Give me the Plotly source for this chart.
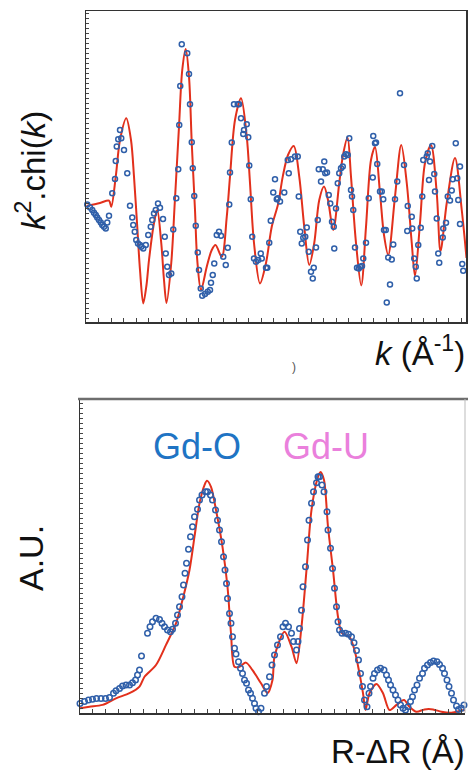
import plotly.graph_objects as go

# ---------------- top panel: k^2.chi(k) ----------------
k_fit = [0.02, 0.56, 0.92, 1.01, 1.19, 1.36, 1.61, 1.80, 1.92, 2.05, 2.16, 2.29, 2.42, 2.52, 2.72, 2.85,
         3.01, 3.12, 3.22, 3.41, 3.55, 3.72, 3.85, 3.99, 4.12, 4.23, 4.36, 4.45, 4.60, 4.83, 5.03, 5.18,
         5.43, 5.63, 5.76, 5.96, 6.20, 6.43, 6.56, 6.72, 6.96, 7.20, 7.43, 7.69, 7.87, 8.08, 8.31, 8.53,
         8.73, 8.93, 9.13, 9.33, 9.52, 9.68, 9.89, 10.13, 10.28, 10.46, 10.60, 10.80, 11.01, 11.20, 11.40,
         11.56, 11.76, 11.92, 12.09, 12.36, 12.61, 12.83, 13.03, 13.16, 13.36, 13.56, 13.80, 14.03, 14.18,
         14.43, 14.76, 15.03, 15.22]
chi_fit = [-0.15, 0.0, 0.12, -0.19, 1.32, 3.15, 4.24, 3.15, 1.32, -1.19, -3.35, -5.02, -4.10, -2.85, -1.00, -0.35,
           -2.00, -3.85, -5.00, -3.00, 0.00, 3.82, 6.65, 7.70, 6.32, 3.00, -0.35, -2.85, -4.35, -3.19, -2.35, -2.10,
           -2.69, -0.69, 1.32, 4.15, 5.24, 3.32, 1.00, -2.00, -4.02, -3.00, -1.19, -0.02, 1.32, 2.40, 2.85, 1.32,
           -1.19, -3.10, -2.00, 0.15, 0.82, 0.15, -1.35, 1.00, 2.40, 3.28, 1.32, -2.00, -4.12, -1.19, 2.15,
           2.80, 0.50, -1.60, -2.60, 0.32, 2.90, 1.00, -2.00, -3.65, -1.00, 2.00, 2.90, 0.50, -2.40,
           0.00, 2.25, -0.35, -2.75]

k_exp = [0.05, 0.16, 0.25, 0.32, 0.39, 0.45, 0.52, 0.59, 0.65, 0.72, 0.79, 0.85, 0.92, 1.05, 1.16, 1.19, 1.23,
         1.29, 1.36, 1.41, 1.52, 1.65, 1.76, 1.85, 1.89, 1.95, 2.01, 2.08, 2.16, 2.21, 2.29, 2.39, 2.49, 2.59,
         2.65, 2.72, 2.79, 2.88, 2.96, 3.08, 3.15, 3.19, 3.25, 3.32, 3.41, 3.49, 3.61, 3.69, 3.73, 3.77, 3.83,
         4.05, 4.12, 4.16, 4.23, 4.27, 4.33, 4.39, 4.47, 4.52, 4.59, 4.65, 4.76, 4.87, 4.96, 5.00, 5.07, 5.13,
         5.23, 5.32, 5.40, 5.49, 5.59, 5.67, 5.73, 5.76, 5.83, 5.92, 6.07, 6.12, 6.20, 6.29, 6.32, 6.43, 6.49,
         6.53, 6.59, 6.65, 6.72, 6.80, 6.89, 6.99, 7.03, 7.20, 7.25, 7.33, 7.39, 7.49, 7.56, 7.63, 7.67, 7.76,
         7.93, 8.07, 8.11, 8.20, 8.36, 8.47, 8.51, 8.57, 8.63, 8.69, 8.77, 8.83, 8.91, 9.00, 9.07, 9.11, 9.20,
         9.27, 9.31, 9.40, 9.47, 9.53, 9.57, 9.64, 9.71, 9.77, 9.84, 9.91, 9.93, 10.00, 10.07, 10.13, 10.20,
         10.27, 10.33, 10.40, 10.47, 10.53, 10.60, 10.64, 10.69, 10.76, 10.84, 10.91, 10.97, 11.04, 11.09,
         11.20, 11.31, 11.47, 11.49, 11.56, 11.60, 11.65, 11.76, 11.83, 11.89, 11.92, 11.99, 12.03, 12.09,
         12.16, 12.23, 12.29, 12.36, 12.45, 12.56, 12.72, 12.87, 12.85, 13.03, 13.05, 13.13, 13.19, 13.23,
         13.29, 13.39, 13.45, 13.49, 13.63, 13.67, 13.72, 13.76, 13.85, 13.93, 13.96, 14.03, 14.09, 14.13,
         14.27, 14.29, 14.40, 14.47, 14.56, 14.63, 14.67, 14.79, 14.85, 14.89, 14.96, 14.96, 15.05, 15.09]
chi_exp = [-0.07, -0.22, -0.35, -0.49, -0.60, -0.72, -0.85, -0.97, -1.10, -1.19, -1.27, -0.97, -0.64, 0.49, 1.20,
           2.10, 2.82, 3.19, 3.65, 3.24, 2.65, 1.49, -0.14, -0.72, -1.10, -1.44, -1.85, -2.02, -2.10, -2.19,
           -2.27, -2.10, -1.60, -1.19, -0.85, -0.52, -0.35, -0.02, -0.24, -0.80, -1.69, -2.52, -3.19, -3.60,
           -3.52, -1.32, 0.24, 1.69, 3.90, 5.85, 7.94, 7.49, 6.45, 4.94, 3.04, 1.74, 0.35, -1.14, -2.47, -3.35,
           -4.27, -4.64, -4.55, -4.44, -4.35, -3.99, -3.60, -3.02, -1.60, -1.44, -1.64, -2.69, -3.10, -2.24,
           -0.07, 1.52, 3.02, 4.94, 4.94, 4.94, 4.24, 3.45, 3.65, 3.94, 3.29, 1.87, 0.19, -1.69, -2.77, -2.94,
           -2.85, -2.52, -2.77, -3.24, -3.24, -1.99, -0.89, 0.52, 1.19, 0.19, 0.24, 0.07, 0.52, 2.15, 1.49,
           2.19, 2.32, 2.32, 0.32, -1.44, -2.02, -1.74, -1.69, -1.22, -2.44, -3.44, -3.77, -3.24, -2.22, -0.85,
           1.69, 1.07, 1.69, 2.07, 1.49, 1.52, 0.40, -0.02, -0.94, -1.19, -2.27, -0.27, 0.99, 1.49, 1.74, 1.82,
           2.32, 2.44, 2.40, 3.24, 0.65, 0.32, -0.35, -2.22, -3.24, -3.27, -3.19, -3.15, -2.77, -1.99, 0.24,
           1.27, 3.35, 2.99, 3.02, 1.95, 0.57, 0.57, 0.19, -1.35, -1.35, -4.97, -2.72, -4.07, -2.82, -2.07,
           0.19, 1.07, 5.49, 1.90, -0.15, -1.40, -0.69, -1.27, -2.77, -3.19, -3.77, -2.10, -1.24, 0.32, 2.15,
           2.32, 2.49, 1.15, 2.07, 2.85, 1.45, 0.57, -0.77, -2.52, -2.99, -1.72, -1.27, -0.99, 0.32, 0.12,
           0.62, 1.19, 2.99, 1.24, 0.15, 1.82, -1.05, -3.05, -3.39]

# ---------------- bottom panel: FT magnitude ----------------
r_fit = [0.00, 0.19, 0.45, 0.72, 0.99, 1.19, 1.29, 1.52, 1.72, 1.92, 2.05, 2.19, 2.29, 2.39, 2.49, 2.54, 2.62,
         2.72, 2.85, 2.95, 3.02, 3.09, 3.19, 3.32, 3.45, 3.62, 3.75, 3.85, 3.89, 4.09, 4.23, 4.33, 4.43, 4.53,
         4.63, 4.75, 4.81, 4.88, 4.96, 5.06, 5.16, 5.24, 5.39, 5.49, 5.59, 5.66, 5.71, 5.79, 5.93, 6.06, 6.19,
         6.33, 6.48, 6.59, 6.73, 6.89, 7.06, 7.23, 7.43, 7.63, 7.70]
ft_fit = [0.016, 0.021, 0.027, 0.049, 0.066, 0.088, 0.121, 0.160, 0.227, 0.299, 0.377, 0.477, 0.588, 0.699,
          0.760, 0.774, 0.754, 0.677, 0.554, 0.421, 0.266, 0.154, 0.154, 0.168, 0.143, 0.099, 0.066, 0.110,
          0.188, 0.271, 0.221, 0.166, 0.288, 0.477, 0.677, 0.782, 0.804, 0.777, 0.621, 0.477, 0.321, 0.266,
          0.254, 0.210, 0.132, 0.066, 0.010, 0.066, 0.097, 0.066, 0.010, 0.027, 0.043, 0.021, 0.004, 0.012,
          0.012, 0.004, 0.001, 0.008, 0.010]

r_exp = [0.00, 0.09, 0.17, 0.25, 0.33, 0.42, 0.51, 0.59, 0.67, 0.72, 0.79, 0.85, 0.92, 0.99, 1.05, 1.11, 1.15,
         1.19, 1.23, 1.35, 1.40, 1.45, 1.52, 1.59, 1.64, 1.69, 1.75, 1.81, 1.85, 1.91, 1.95, 1.99, 2.04, 2.07,
         2.10, 2.13, 2.17, 2.21, 2.25, 2.29, 2.35, 2.39, 2.44, 2.51, 2.55, 2.61, 2.65, 2.71, 2.75, 2.79, 2.83,
         2.87, 2.90, 2.93, 2.95, 2.99, 3.02, 3.05, 3.09, 3.12, 3.17, 3.21, 3.25, 3.29, 3.33, 3.37, 3.41, 3.45,
         3.49, 3.52, 3.57, 3.62, 3.69, 3.73, 3.79, 3.84, 3.89, 3.95, 4.01, 4.06, 4.11, 4.17, 4.23, 4.27, 4.33,
         4.36, 4.39, 4.43, 4.46, 4.51, 4.55, 4.58, 4.63, 4.67, 4.73, 4.76, 4.79, 4.84, 4.88, 4.94, 4.96, 5.01,
         5.05, 5.09, 5.13, 5.16, 5.19, 5.24, 5.31, 5.37, 5.43, 5.48, 5.53, 5.57, 5.61, 5.65, 5.69, 5.74, 5.78,
         5.81, 5.86, 5.89, 5.95, 6.01, 6.08, 6.13, 6.17, 6.21, 6.26, 6.31, 6.36, 6.41, 6.46, 6.51, 6.56, 6.61,
         6.65, 6.69, 6.74, 6.79, 6.85, 6.89, 6.95, 7.01, 7.07, 7.14, 7.19, 7.25, 7.29, 7.34, 7.38, 7.43, 7.47,
         7.53, 7.57, 7.63, 7.68]
ft_exp = [0.032, 0.038, 0.043, 0.046, 0.048, 0.048, 0.048, 0.052, 0.066, 0.074, 0.082, 0.090, 0.093, 0.093,
          0.101, 0.110, 0.127, 0.143, 0.190, 0.266, 0.288, 0.304, 0.316, 0.312, 0.299, 0.288, 0.277, 0.271,
          0.279, 0.299, 0.327, 0.354, 0.388, 0.427, 0.466, 0.499, 0.546, 0.588, 0.621, 0.654, 0.679, 0.710,
          0.727, 0.738, 0.738, 0.727, 0.710, 0.677, 0.643, 0.610, 0.571, 0.521, 0.477, 0.432, 0.382, 0.332,
          0.299, 0.254, 0.216, 0.197, 0.171, 0.149, 0.132, 0.110, 0.099, 0.077, 0.066, 0.049, 0.032, 0.016,
          0.004, 0.016, 0.066, 0.088, 0.121, 0.160, 0.193, 0.227, 0.254, 0.288, 0.299, 0.288, 0.266, 0.238,
          0.210, 0.238, 0.282, 0.343, 0.421, 0.488, 0.577, 0.643, 0.699, 0.738, 0.768, 0.788, 0.788, 0.760,
          0.738, 0.671, 0.610, 0.549, 0.482, 0.416, 0.354, 0.304, 0.277, 0.266, 0.266, 0.263, 0.254, 0.234,
          0.208, 0.177, 0.132, 0.088, 0.043, 0.021, 0.066, 0.088, 0.116, 0.132, 0.143, 0.149, 0.143, 0.127,
          0.110, 0.093, 0.077, 0.060, 0.043, 0.027, 0.016, 0.010, 0.021, 0.038, 0.054, 0.077, 0.093, 0.116,
          0.132, 0.149, 0.160, 0.168, 0.173, 0.171, 0.162, 0.149, 0.132, 0.110, 0.088, 0.066, 0.043, 0.023,
          0.012, 0.016, 0.027]

RED = "#E2301C"
BLUE = "#2F5FA9"
FONT = "Liberation Sans, Arial, sans-serif"

fig = go.Figure()
fig.add_trace(go.Scatter(x=k_fit, y=chi_fit, mode="lines", line=dict(color=RED, width=2, shape="spline", smoothing=0.9),
                         xaxis="x", yaxis="y", showlegend=False))
fig.add_trace(go.Scatter(x=k_exp, y=chi_exp, mode="markers",
                         marker=dict(symbol="circle-open", size=5, color=BLUE, line=dict(width=1.5, color=BLUE)),
                         xaxis="x", yaxis="y", showlegend=False, cliponaxis=False))
fig.add_trace(go.Scatter(x=r_fit, y=ft_fit, mode="lines", line=dict(color=RED, width=2, shape="spline", smoothing=0.8),
                         xaxis="x2", yaxis="y2", showlegend=False))
fig.add_trace(go.Scatter(x=r_exp, y=ft_exp, mode="markers",
                         marker=dict(symbol="circle-open", size=5.5, color=BLUE, line=dict(width=1.5, color=BLUE)),
                         xaxis="x2", yaxis="y2", showlegend=False, cliponaxis=False))

W, H = 468, 772
axis_common = dict(showgrid=False, zeroline=False, showticklabels=False, ticks="inside",
                   linecolor="#333333", tickcolor="#444444")

fig.update_layout(
    width=W, height=H, margin=dict(l=0, r=0, t=0, b=0),
    paper_bgcolor="white", plot_bgcolor="white",
    font=dict(family=FONT, color="#111111", size=14),
    xaxis=dict(domain=[86 / W, 466 / W], anchor="y", range=[0, 15.2], dtick=0.5, tick0=0, ticklen=4,
               linewidth=1.5, mirror=True, showline=True, **axis_common),
    yaxis=dict(domain=[1 - 322 / H, 1 - 11 / H], anchor="x", range=[-5.95, 9.6], dtick=0.25, tick0=0, ticklen=3,
               tickwidth=1, linewidth=1.5, mirror=True, showline=True, **axis_common),
    xaxis2=dict(domain=[80 / W, 465 / W], anchor="y2", range=[0, 7.7], dtick=0.254, tick0=0, ticklen=4,
                linewidth=2, mirror=False, showline=True, **axis_common),
    yaxis2=dict(domain=[1 - 713 / H, 1 - 399 / H], anchor="x2", range=[0, 1.047], dtick=1 / 60, tick0=0, ticklen=3,
                tickwidth=1, linewidth=1.5, mirror=False, showline=True, **axis_common),
    shapes=[
        dict(type="line", xref="paper", yref="paper", x0=78 / W, x1=468 / W, y0=1 - 399 / H, y1=1 - 399 / H,
             line=dict(color="#6e6e6e", width=2.5)),
        dict(type="line", xref="paper", yref="paper", x0=465 / W, x1=465 / W, y0=1 - 713 / H, y1=1 - 399 / H,
             line=dict(color="#bbbbbb", width=1)),
    ],
    annotations=[
        dict(text="<i>k</i><sup>2</sup>.chi(<i>k</i>)", xref="paper", yref="paper", x=31 / W, y=1 - 171 / H,
             textangle=-90, showarrow=False, font=dict(size=33, family=FONT, color="#111111"),
             xanchor="center", yanchor="middle"),
        dict(text="<i>k</i> (Å<sup>-1</sup>)", xref="paper", yref="paper", x=467 / W, y=1 - 351 / H,
             showarrow=False, font=dict(size=33, family=FONT, color="#111111"), xanchor="right", yanchor="middle"),
        dict(text=")", xref="paper", yref="paper", x=294 / W, y=1 - 367 / H, showarrow=False,
             font=dict(size=12, family=FONT, color="#555555"), xanchor="center", yanchor="middle"),
        dict(text="A.U.", xref="paper", yref="paper", x=31 / W, y=1 - 558 / H, textangle=-90, showarrow=False,
             font=dict(size=34, family=FONT, color="#111111"), xanchor="center", yanchor="middle"),
        dict(text="Gd-O", xref="paper", yref="paper", x=197 / W, y=1 - 446 / H, showarrow=False,
             font=dict(size=36, family=FONT, color="#1F74C4"), xanchor="center", yanchor="middle"),
        dict(text="Gd-U", xref="paper", yref="paper", x=326 / W, y=1 - 446 / H, showarrow=False,
             font=dict(size=36, family=FONT, color="#EA80DC"), xanchor="center", yanchor="middle"),
        dict(text="R-ΔR (Å)", xref="paper", yref="paper", x=467 / W, y=1 - 751 / H, showarrow=False,
             font=dict(size=33, family=FONT, color="#111111"), xanchor="right", yanchor="middle"),
    ],
)

fig.write_html("out.html", config={"displayModeBar": False, "staticPlot": True},
               post_script="document.body.style.margin='0';document.body.style.overflow='hidden';")
